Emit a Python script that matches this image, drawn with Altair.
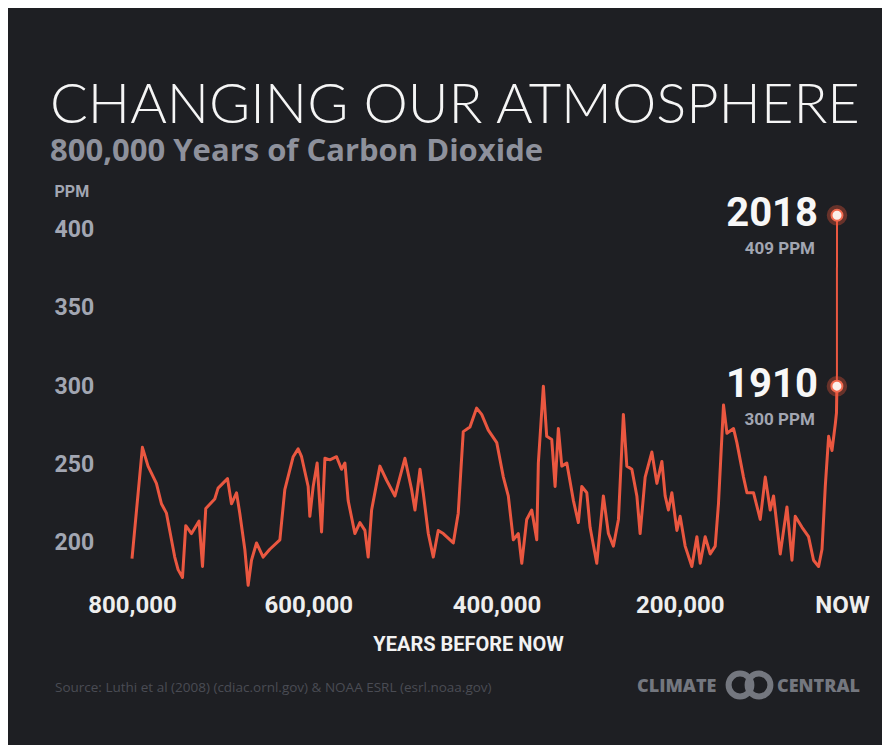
import altair as alt
import pandas as pd

# ---- data ----
kyr_before = [
    800.0, 788.2, 781.8, 772.3, 766.6, 760.9, 757.2, 751.5, 747.7, 742.7,
    739.0, 732.5, 723.9, 720.0, 716.3, 706.1, 702.3, 691.6, 687.1, 681.4,
    677.7, 672.0, 668.2, 664.4, 658.7, 651.2, 643.6, 632.2, 626.6, 617.1,
    611.5, 607.6, 600.1, 598.2, 594.4, 589.9, 584.9, 581.1, 575.5, 567.9,
    562.2, 558.4, 554.7, 547.1, 541.4, 535.7, 532.0, 528.1, 518.7, 511.1,
    501.6, 490.3, 482.7, 478.9, 473.2, 469.5, 463.8, 458.1, 452.5, 446.8,
    435.4, 429.8, 424.1, 416.5, 408.9, 403.2, 395.7, 386.1, 378.6, 373.0,
    367.3, 361.6, 357.7, 352.1, 346.4, 340.7, 338.9, 333.2, 329.4, 323.7,
    319.9, 316.2, 312.3, 306.6, 299.1, 293.5, 289.6, 283.9, 280.2, 272.6,
    265.1, 259.4, 253.7, 248.0, 242.4, 238.5, 232.8, 227.1, 223.4, 217.7,
    210.1, 204.4, 198.7, 195.0, 191.3, 187.4, 181.7, 178.0, 172.3, 164.7,
    159.0, 155.2, 149.6, 143.9, 138.2, 134.5, 128.8, 124.9, 117.4, 113.6,
    106.1, 102.2, 94.7, 87.1, 81.4, 75.8, 72.0, 64.4, 56.8, 51.1,
    47.4, 39.7, 32.3, 26.6, 20.9, 17.0, 13.3, 9.5, 5.7, 1.9,
    0.6,
]
co2_ppm = [
    190, 261, 249, 238, 225, 219, 208, 191, 183, 178,
    211, 206, 214, 185, 222, 228, 235, 241, 225, 232,
    219, 196, 173, 189, 200, 191, 196, 202, 234, 255,
    260, 255, 236, 217, 236, 251, 207, 254, 253, 255,
    247, 251, 227, 206, 213, 208, 191, 221, 249, 240,
    230, 254, 234, 221, 247, 232, 206, 191, 208, 206,
    200, 219, 271, 274, 286, 282, 272, 264, 242, 230,
    202, 206, 187, 215, 221, 202, 251, 300, 268, 266,
    236, 273, 249, 251, 227, 213, 236, 232, 210, 187,
    230, 206, 198, 215, 282, 249, 247, 230, 206, 242,
    258, 238, 252, 230, 221, 232, 208, 217, 198, 185,
    204, 187, 204, 193, 198, 225, 288, 270, 273, 264,
    242, 232, 232, 215, 242, 221, 230, 193, 223, 189,
    217, 210, 204, 189, 185, 196, 236, 268, 259, 276,
    283,
]
modern_years = ["1910", "2018"]
modern_before = [108, 0]          # years before 2018
modern_ppm = [300, 409]
modern_labels = ["300 PPM", "409 PPM"]

x_ticks = [800000, 600000, 400000, 200000, 0]
y_ticks = [200, 250, 300, 350, 400]

assert len(kyr_before) == len(co2_ppm)

ice = pd.DataFrame({"before": [k * 1000 for k in kyr_before], "ppm": co2_ppm})
ice = pd.concat([ice, pd.DataFrame({"before": [modern_before[0]], "ppm": [modern_ppm[0]]})],
                ignore_index=True)
ice["order"] = range(len(ice))
modern = pd.DataFrame({"year": modern_years, "before": modern_before,
                       "ppm": modern_ppm, "label": modern_labels})
one = pd.DataFrame({"k": [0]})

BG = "#1e1f23"
RED = "#ea5740"
GRAY = "#a2a6b2"
LOGO = "#74777f"
COND = "Roboto, sans-serif"

xscale = alt.Scale(domain=[0, 800000], reverse=True, nice=False, zero=False)
yscale = alt.Scale(domain=[170, 420], nice=False, zero=False)

x_axis = alt.Axis(
    values=x_ticks, title="YEARS BEFORE NOW",
    labelExpr="datum.value == 0 ? 'NOW' : format(datum.value, ',')",
    labelFont=COND, labelFontSize=24, labelFontWeight="bold", labelColor="#eeeeee",
    labelPadding=3, labelBaseline="top", labelFlush=False, labelOverlap=False,
    labelOffset={"condition": [
        {"test": "datum.value == 400000", "value": 12},
        {"test": "datum.value == 200000", "value": 19},
        {"test": "datum.value == 0", "value": 5},
    ], "value": 0},
    titleFont=COND, titleFontSize=20, titleFontWeight="bold", titleColor="#f2f2f2",
    titleX=336, titleY=54, titleBaseline="middle", titleAlign="center",
    domain=False, ticks=False, tickSize=0, grid=False,
)
y_axis = alt.Axis(
    values=y_ticks, title="PPM", titleAngle=0, titleAlign="left", titleBaseline="middle",
    titleX=-78, titleY=-7, titleFont=COND, titleFontSize=16, titleFontWeight="bold",
    titleColor=GRAY,
    labelFont=COND, labelFontSize=23, labelFontWeight="bold", labelColor=GRAY,
    labelAlign="left", labelBaseline="middle", labelPadding=78,
    domain=False, ticks=False, tickSize=0, grid=False,
)

base_x = alt.X("before:Q", scale=xscale, axis=x_axis)
base_y = alt.Y("ppm:Q", scale=yscale, axis=y_axis)

line = alt.Chart(ice).mark_line(color=RED, strokeWidth=3, strokeJoin="round").encode(
    x=base_x, y=base_y, order="order:Q")

modern_line = alt.Chart(modern).mark_line(color=RED, strokeWidth=2).encode(
    x=alt.X("before:Q", scale=xscale), y=alt.Y("ppm:Q", scale=yscale))

halo = alt.Chart(modern).mark_point(shape="circle", filled=True, color="#f2553a",
                                    opacity=0.35, size=420).encode(
    x=alt.X("before:Q", scale=xscale), y=alt.Y("ppm:Q", scale=yscale))
dots = alt.Chart(modern).mark_point(shape="circle", filled=True, fill="#fbeeea",
                                    stroke="#f26a4f", strokeWidth=2, opacity=1, size=120).encode(
    x=alt.X("before:Q", scale=xscale), y=alt.Y("ppm:Q", scale=yscale))

year_text = alt.Chart(modern).mark_text(
    font=COND, fontSize=40, fontWeight="bold", color="#f7f7f7",
    align="right", baseline="middle", dx=-19, dy=-1).encode(
    x=alt.X("before:Q", scale=xscale), y=alt.Y("ppm:Q", scale=yscale), text="year:N")
ppm_text = alt.Chart(modern).mark_text(
    font=COND, fontSize=17, fontWeight="bold", color=GRAY,
    align="right", baseline="middle", dx=-22, dy=34).encode(
    x=alt.X("before:Q", scale=xscale), y=alt.Y("ppm:Q", scale=yscale), text="label:N")

source = alt.Chart(one).mark_text(
    text="Source: Luthi et al (2008) (cdiac.ornl.gov) & NOAA ESRL (esrl.noaa.gov)",
    font="Open Sans", fontSize=13.5, color="#4a4c54", align="left", baseline="middle").encode(
    x=alt.value(-77), y=alt.value(490))
logo_l = alt.Chart(one).mark_text(
    text="CLIMATE", font="Open Sans", fontSize=18, fontWeight=800, color=LOGO,
    align="left", baseline="middle").encode(x=alt.value(505), y=alt.value(489))
logo_r = alt.Chart(one).mark_text(
    text="CENTRAL", font="Open Sans", fontSize=18, fontWeight=800, color=LOGO,
    align="left", baseline="middle").encode(x=alt.value(645), y=alt.value(489))
ring1 = alt.Chart(one).mark_point(shape="circle", filled=False, color=LOGO,
                                  strokeWidth=6, size=520, opacity=1).encode(
    x=alt.value(608), y=alt.value(487))
ring2 = alt.Chart(one).mark_point(shape="circle", filled=False, color=LOGO,
                                  strokeWidth=6, size=520, opacity=1).encode(
    x=alt.value(627), y=alt.value(487))

chart = alt.layer(
    line, modern_line, halo, dots, year_text, ppm_text,
    source, logo_l, logo_r, ring1, ring2,
).properties(
    width=705, height=392,
    autosize=alt.AutoSizeParams(type="none"),
    padding={"left": 124, "top": 190, "right": 45, "bottom": 155},
    background=BG,
    title=alt.TitleParams(
        text="CHANGING OUR ATMOSPHERE",
        subtitle="800,000 Years of Carbon Dioxide",
        anchor="start", frame="group", dx=-82, offset=15,
        font="Lato", fontSize=56, fontWeight=300, color="#f5f5f5",
        subtitleFont="Open Sans", subtitleFontSize=31, subtitleFontWeight="bold",
        subtitleColor="#8e919c", subtitlePadding=2,
    ),
).configure_view(stroke=None)

chart.save("out.html", embed_options={"renderer": "svg", "actions": False})
